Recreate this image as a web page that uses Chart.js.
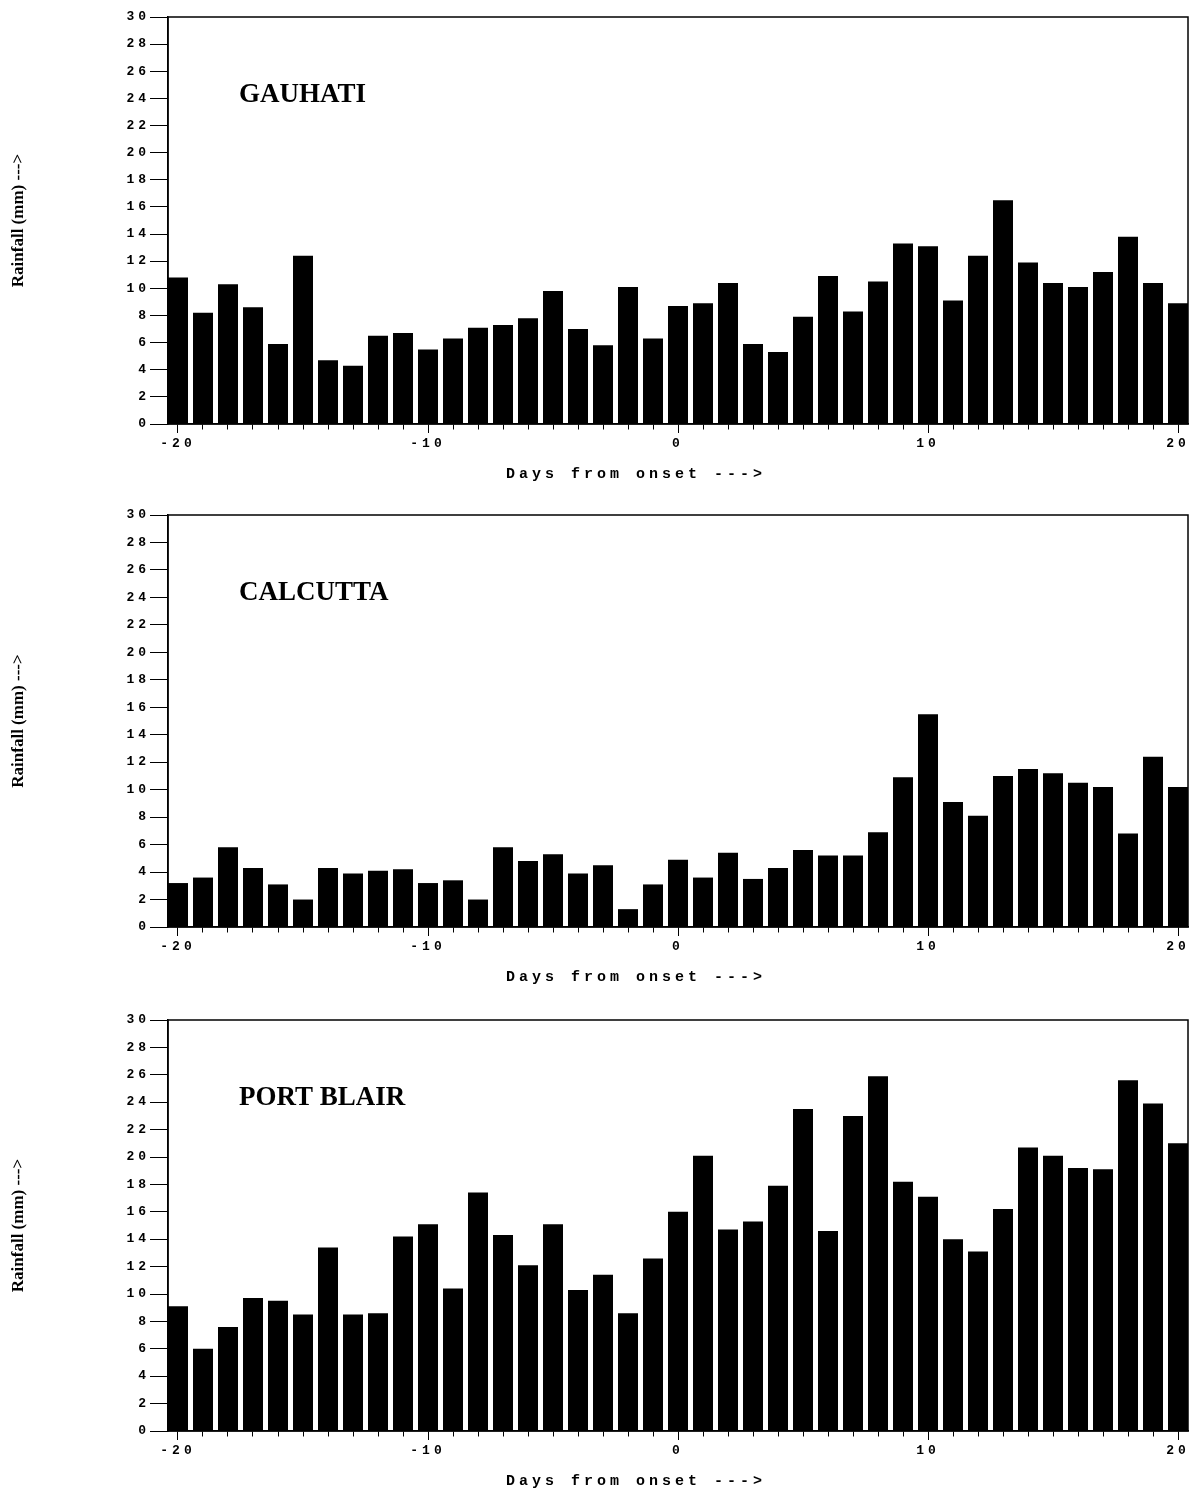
<!DOCTYPE html>
<html>
<head>
<meta charset="utf-8">
<script src="https://cdn.jsdelivr.net/npm/chart.js@4.4.1/dist/chart.umd.min.js"></script>
<style>
    body { margin: 0; background: #fff; }
    .panel { position: absolute; left: 0; width: 1189px; }
</style>
</head>
<body>
<div class="panel" style="top:0px;height:484px"><canvas id="gauhatiChart"></canvas></div>
<div class="panel" style="top:498px;height:489px"><canvas id="calcuttaChart"></canvas></div>
<div class="panel" style="top:1003px;height:488px"><canvas id="portBlairChart"></canvas></div>
<script>
// Days from onset
const days = [-20, -19, -18, -17, -16, -15, -14, -13, -12, -11, -10, -9, -8, -7, -6, -5, -4, -3, -2, -1,
    0, 1, 2, 3, 4, 5, 6, 7, 8, 9, 10, 11, 12, 13, 14, 15, 16, 17, 18, 19, 20];

// Rainfall (mm)
const gauhati = [10.8, 8.2, 10.3, 8.6, 5.9, 12.4, 4.7, 4.3, 6.5, 6.7, 5.5, 6.3, 7.1, 7.3, 7.8, 9.8, 7.0, 5.8, 10.1, 6.3,
    8.7, 8.9, 10.4, 5.9, 5.3, 7.9, 10.9, 8.3, 10.5, 13.3, 13.1, 9.1, 12.4, 16.5, 11.9, 10.4, 10.1, 11.2, 13.8, 10.4, 8.9];
const calcutta = [3.2, 3.6, 5.8, 4.3, 3.1, 2.0, 4.3, 3.9, 4.1, 4.2, 3.2, 3.4, 2.0, 5.8, 4.8, 5.3, 3.9, 4.5, 1.3, 3.1,
    4.9, 3.6, 5.4, 3.5, 4.3, 5.6, 5.2, 5.2, 6.9, 10.9, 15.5, 9.1, 8.1, 11.0, 11.5, 11.2, 10.5, 10.2, 6.8, 12.4, 10.2];
const portBlair = [9.1, 6.0, 7.6, 9.7, 9.5, 8.5, 13.4, 8.5, 8.6, 14.2, 15.1, 10.4, 17.4, 14.3, 12.1, 15.1, 10.3, 11.4, 8.6, 12.6,
    16.0, 20.1, 14.7, 15.3, 17.9, 23.5, 14.6, 23.0, 25.9, 18.2, 17.1, 14.0, 13.1, 16.2, 20.7, 20.1, 19.2, 19.1, 25.6, 23.9, 21.0];

const yTitle = 'Rainfall (mm) --->';
const xTitle = 'Days from onset --->';

// frame, station name and axis titles
const panelText = {
    id: 'panelText',
    beforeDraw(chart) {
        chart.ctx.letterSpacing = '4px';
    },
    afterDraw(chart, args, opts) {
        const {ctx, chartArea} = chart;
        ctx.save();
        ctx.strokeStyle = '#000';
        ctx.lineWidth = 1.5;
        ctx.strokeRect(chartArea.left, chartArea.top, chartArea.right - chartArea.left, chartArea.bottom - chartArea.top);

        ctx.fillStyle = '#000';
        ctx.textBaseline = 'middle';

        ctx.textAlign = 'center';
        ctx.font = 'bold 15px "Liberation Mono"';
        ctx.fillText(xTitle, 636, chartArea.bottom + 50);

        ctx.letterSpacing = '0px';
        ctx.textAlign = 'left';
        ctx.font = 'bold 27px "Liberation Serif"';
        ctx.fillText(opts.station, 239, chartArea.top + 78);

        ctx.translate(19, (chartArea.top + chartArea.bottom) / 2);
        ctx.rotate(-Math.PI / 2);
        ctx.textAlign = 'center';
        ctx.font = 'bold 17px "Liberation Serif"';
        ctx.fillText(yTitle, 0, 0);
        ctx.restore();
    }
};

function makeChart(id, station, values) {
    const ctx = document.getElementById(id);
    if (!ctx) return;
    new Chart(ctx, {
        type: 'bar',
        data: {
            datasets: [{
                label: station,
                data: days.map((d, i) => ({x: d, y: values[i]})),
                backgroundColor: '#000',
                borderWidth: 0,
                barPercentage: 0.8,
                categoryPercentage: 1
            }]
        },
        options: {
            responsive: true,
            maintainAspectRatio: false,
            animation: false,
            layout: { padding: { top: 17, left: 0, right: 1, bottom: 0 } },
            scales: {
                x: {
                    type: 'linear',
                    min: -20.4,
                    max: 20.4,
                    offset: false,
                    afterFit: s => { s.height = 60; },
                    border: { color: '#000', width: 1.5 },
                    grid: {
                        offset: false,
                        drawOnChartArea: false,
                        tickLength: 9,
                        tickColor: '#000',
                        tickBorderDash: c => (c.tick && Math.round(c.tick.value) % 10 === 0) ? [] : [5, 20]
                    },
                    ticks: {
                        stepSize: 1,
                        includeBounds: false,
                        autoSkip: false,
                        maxRotation: 0,
                        padding: 3,
                        color: '#000',
                        font: { family: '"Liberation Mono"', size: 13, weight: 'bold' },
                        callback: v => Math.round(v) % 10 === 0 ? Math.round(v) : ''
                    }
                },
                y: {
                    min: 0,
                    max: 30,
                    afterFit: s => { s.width = 168; },
                    border: { color: '#000', width: 1.5 },
                    grid: {
                        drawOnChartArea: false,
                        tickLength: 18,
                        tickColor: '#000'
                    },
                    ticks: {
                        stepSize: 2,
                        padding: 0,
                        color: '#000',
                        font: { family: '"Liberation Mono"', size: 13, weight: 'bold' }
                    }
                }
            },
            plugins: {
                legend: { display: false },
                tooltip: { enabled: false },
                panelText: { station: station }
            }
        },
        plugins: [panelText]
    });
}

makeChart('gauhatiChart', 'GAUHATI', gauhati);
makeChart('calcuttaChart', 'CALCUTTA', calcutta);
makeChart('portBlairChart', 'PORT BLAIR', portBlair);
</script>
</body>
</html>
